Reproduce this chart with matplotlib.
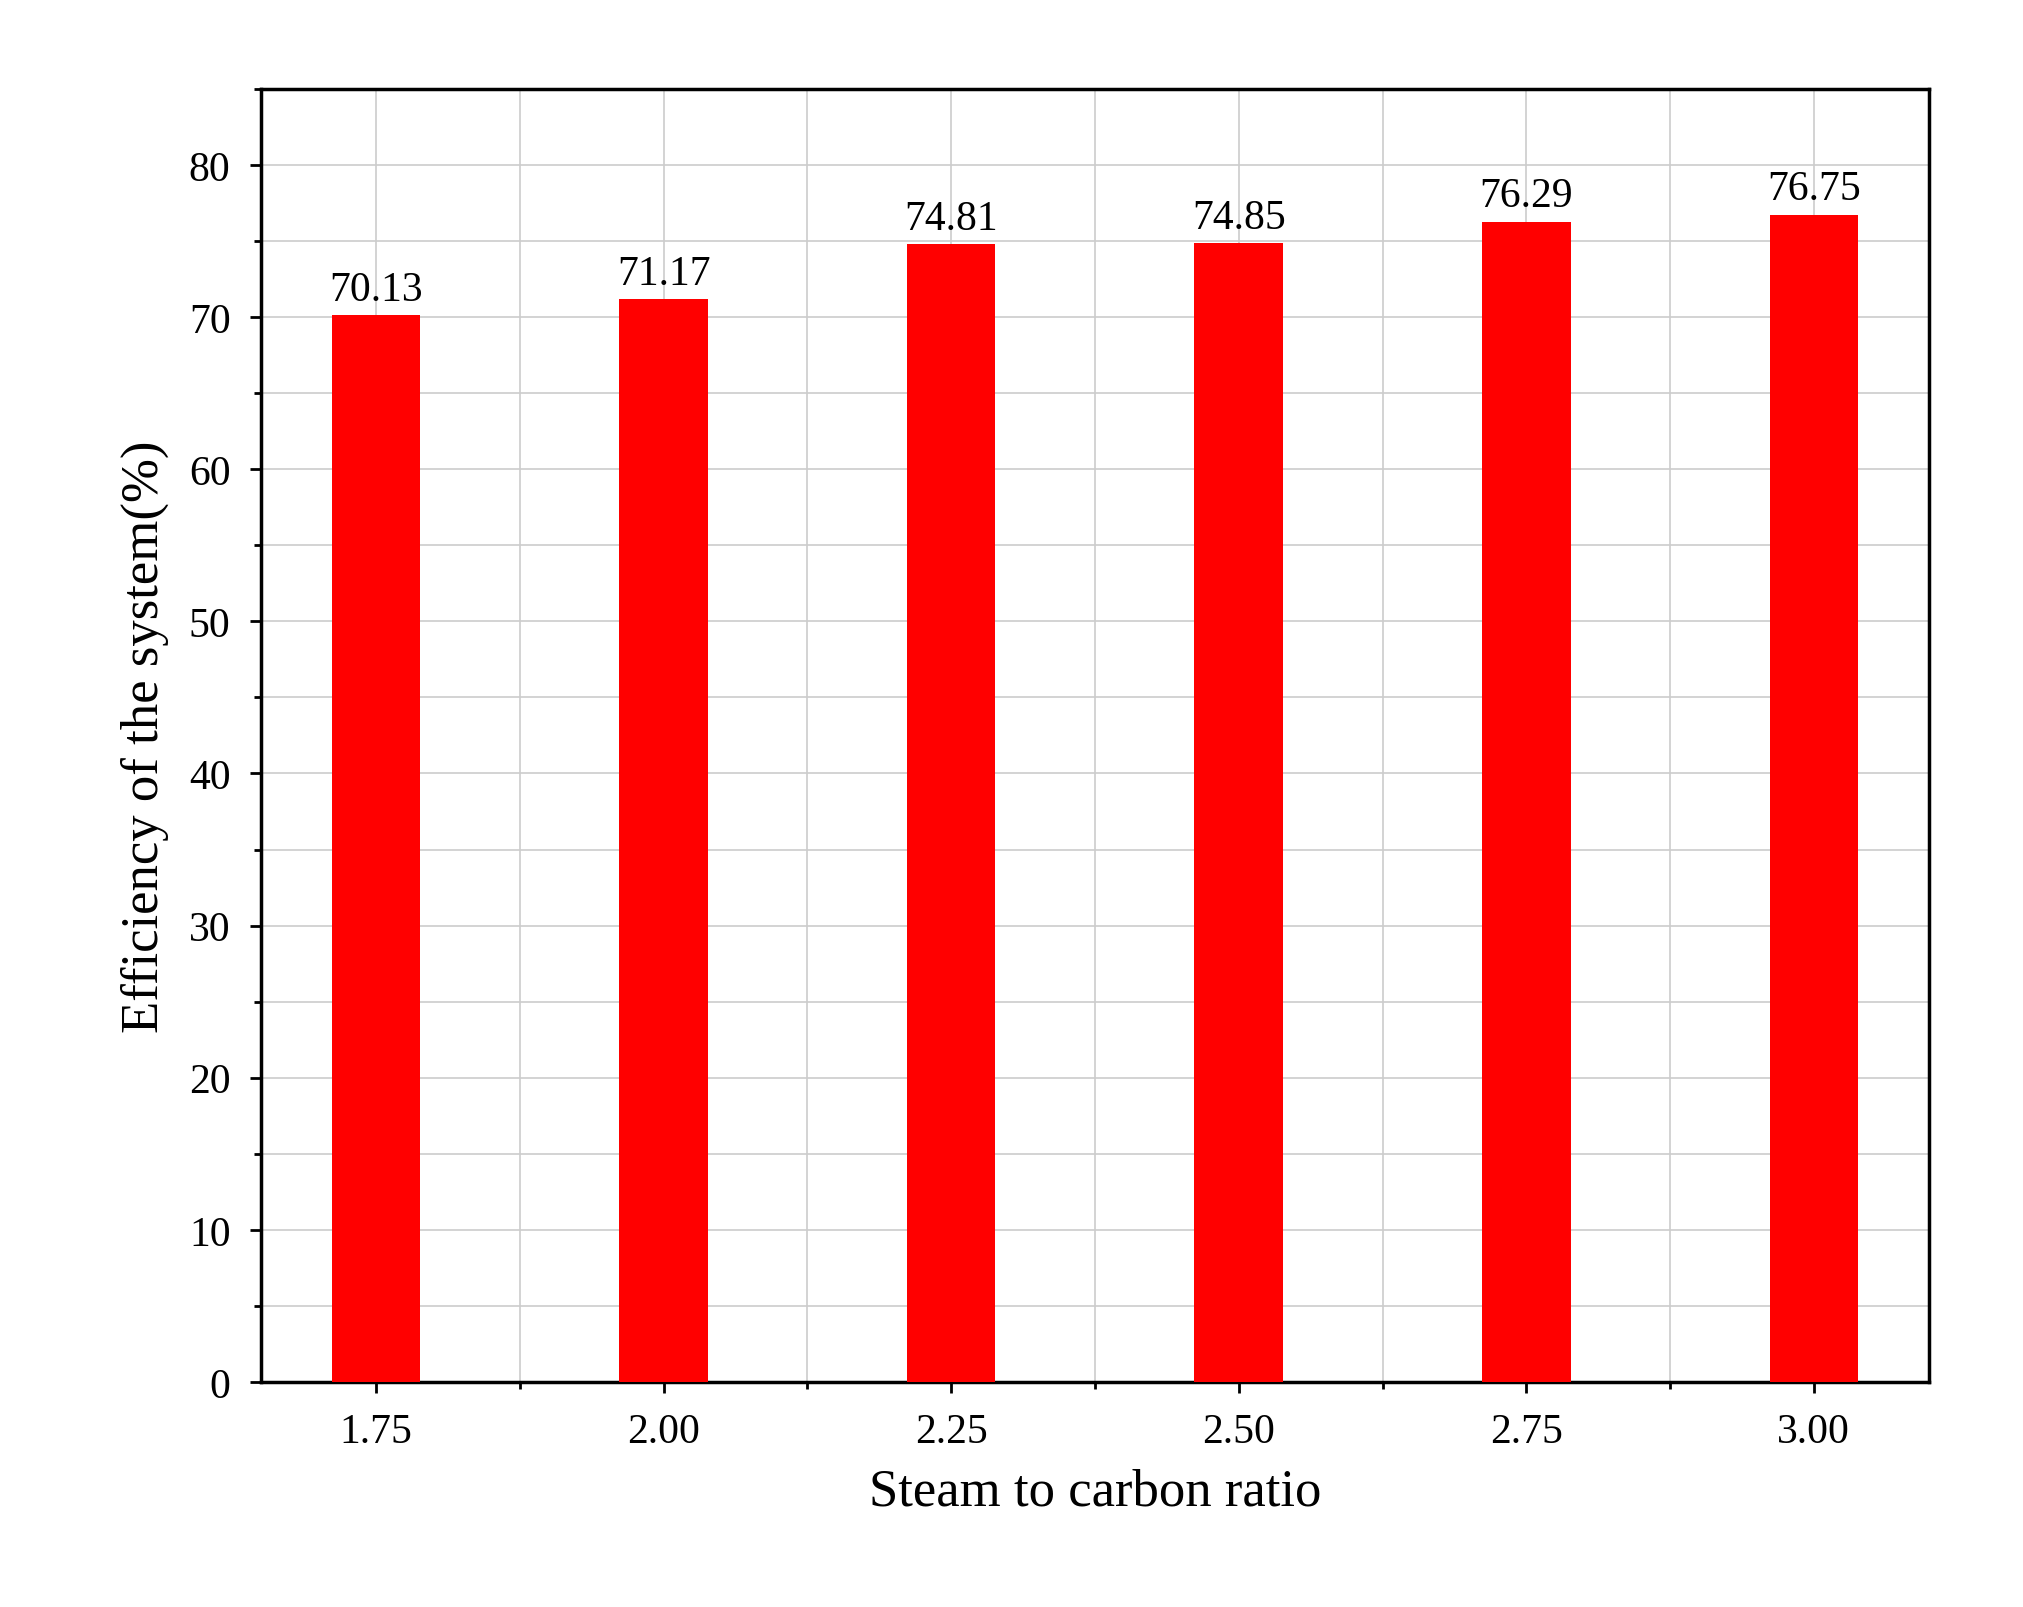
import matplotlib.pyplot as plt
from matplotlib.ticker import MultipleLocator

plt.rcParams['font.family'] = ['Liberation Serif', 'DejaVu Serif']

# Data
ratios = [1.75, 2.00, 2.25, 2.50, 2.75, 3.00]
efficiency = [70.13, 71.17, 74.81, 74.85, 76.29, 76.75]
tick_labels = ['1.75', '2.00', '2.25', '2.50', '2.75', '3.00']

fig = plt.figure(figsize=(20.24, 16.08), dpi=100)
ax = fig.add_axes([0.129, 0.140, 0.824, 0.804])

ax.bar(ratios, efficiency, width=0.077, color='#ff0000', zorder=3)
for x, v in zip(ratios, efficiency):
    ax.text(x, v + 0.4, f'{v:.2f}', ha='center', va='bottom', fontsize=30, zorder=4)

ax.set_xlim(1.65, 3.10)
ax.set_ylim(0, 85)
ax.set_xticks(ratios)
ax.set_xticklabels(tick_labels)
ax.xaxis.set_minor_locator(MultipleLocator(0.125))
ax.set_yticks(range(0, 81, 10))
ax.yaxis.set_minor_locator(MultipleLocator(5))

ax.grid(True, which='both', color='#cccccc', linewidth=1.2, zorder=0)
ax.tick_params(axis='both', which='major', labelsize=30, direction='out', length=8, width=2, pad=14)
ax.tick_params(axis='both', which='minor', direction='out', length=5, width=2)
for s in ax.spines.values():
    s.set_linewidth(2.5)

ax.set_xlabel('Steam to carbon ratio', fontsize=38, labelpad=12)
ax.set_ylabel('Efficiency of the system(%)', fontsize=38, labelpad=14)

fig.savefig('out.png', dpi=100)
